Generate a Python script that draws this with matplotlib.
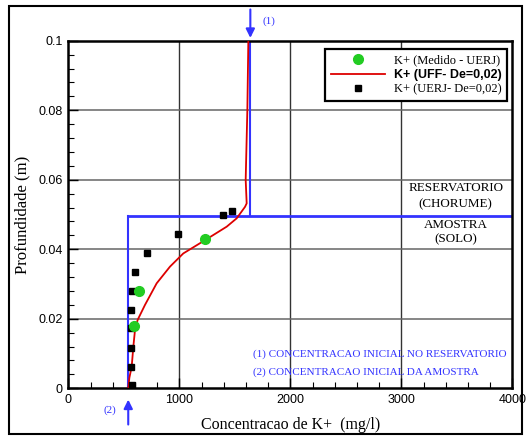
import matplotlib
matplotlib.use("Agg")
import matplotlib.pyplot as plt
from matplotlib.lines import Line2D
from matplotlib.patches import Rectangle

# ---- data ----
uerj_x = [571, 565, 565, 562, 565, 571, 598, 712, 985, 1397, 1475]
uerj_y = [0.001, 0.0062, 0.0117, 0.0173, 0.0225, 0.0281, 0.0335, 0.039, 0.0444, 0.0499, 0.0509]

medido_x = [592, 640, 1234]
medido_y = [0.018, 0.0279, 0.043]

uff_x = [540, 550, 571, 586, 601, 625, 691, 796, 916, 1036, 1246, 1427, 1517, 1592, 1607, 1598, 1613, 1622]
uff_y = [0.0, 0.003, 0.0062, 0.012, 0.0168, 0.0197, 0.024, 0.0302, 0.035, 0.0388, 0.0429, 0.0465, 0.0489, 0.0522, 0.0532, 0.06, 0.08, 0.1]

c_reservatorio = 1640
c_amostra = 540
interface = 0.0495

xticks = [0, 1000, 2000, 3000, 4000]
yticks = [0, 0.02, 0.04, 0.06, 0.08, 0.1]
ytick_labels = ["0", "0.02", "0.04", "0.06", "0.08", "0.1"]

BLUE = "#3333ff"
RED = "#dd0000"
GREEN = "#22cc22"
SERIF = "Liberation Serif"
SANS = "Liberation Sans"

fig = plt.figure(figsize=(5.26, 4.37), dpi=100)
W, H = 526, 437
ax = fig.add_axes([68.3 / W, 1 - 388.3 / H, 444 / W, 347.6 / H])

ax.set_xlim(0, 4000)
ax.set_ylim(0, 0.1)

# grid
for xv in [1000, 2000, 3000]:
    ax.axvline(xv, color="#333333", lw=1, zorder=1)
for yv in [0.02, 0.04, 0.06, 0.08]:
    ax.axhline(yv, color="#666666", lw=1.1, zorder=1)

# blue reference lines
ax.plot([c_amostra, c_amostra], [0, interface], color=BLUE, lw=1.5, zorder=2)
ax.plot([c_amostra, 4000], [interface, interface], color=BLUE, lw=2, zorder=2)
ax.plot([c_reservatorio, c_reservatorio], [interface, 0.1], color=BLUE, lw=1.5, zorder=2)

# arrows outside axes
ax.annotate("", xy=(c_reservatorio, 0.1), xycoords="data",
            xytext=(c_reservatorio, 0.1 + 34 / 3476), textcoords="data",
            arrowprops=dict(arrowstyle="-|>", color=BLUE, lw=1.5, mutation_scale=13),
            annotation_clip=False)
ax.text(c_reservatorio + 110, 0.1 + 20 / 3476, "(1)", color=BLUE, fontsize=8,
        family=SERIF, ha="left", va="center", clip_on=False)
ax.annotate("", xy=(c_amostra, -8.5 / 3476), xycoords="data",
            xytext=(c_amostra, -39 / 3476), textcoords="data",
            arrowprops=dict(arrowstyle="-|>", color=BLUE, lw=1.5, mutation_scale=13),
            annotation_clip=False)
ax.text(c_amostra - 110, -22 / 3476, "(2)", color=BLUE, fontsize=8,
        family=SERIF, ha="right", va="center", clip_on=False)

# data
ax.plot(uff_x, uff_y, color=RED, lw=1.3, zorder=3)
ax.plot(uerj_x, uerj_y, ls="none", marker="s", ms=5, color="black", zorder=4)
ax.plot(medido_x, medido_y, ls="none", marker="o", ms=7, color=GREEN, zorder=5)

# text annotations
for txt, yv in [("RESERVATORIO", 0.0576), ("(CHORUME)", 0.0530),
                ("AMOSTRA", 0.0470), ("(SOLO)", 0.0430)]:
    ax.text(3490, yv, txt, ha="center", va="center", family=SERIF, fontsize=9.4)
ax.text(1665, 0.0097, "(1) CONCENTRACAO INICIAL NO RESERVATORIO", color=BLUE,
        family=SERIF, fontsize=8, ha="left", va="center")
ax.text(1665, 0.0046, "(2) CONCENTRACAO INICIAL DA AMOSTRA", color=BLUE,
        family=SERIF, fontsize=8, ha="left", va="center")

# ticks
ax.set_xticks(xticks)
ax.set_xticklabels([str(v) for v in xticks], family=SANS, fontsize=9)
ax.set_yticks(yticks)
ax.set_yticklabels(ytick_labels, family=SANS, fontsize=9)
ax.set_xticks(range(0, 4001, 200), minor=True)
ax.set_yticks([i * 0.004 for i in range(26)], minor=True)
ax.tick_params(which="major", direction="in", length=7, width=1, pad=4)
ax.tick_params(which="minor", direction="in", length=4, width=0.8)
ax.tick_params(top=False, right=False)
for s in ax.spines.values():
    s.set_linewidth(1.8)

ax.set_xlabel("Concentracao de K+  (mg/l)", family=SERIF, fontsize=11.5, labelpad=8)
ax.set_ylabel("Profundidade (m)", family=SERIF, fontsize=12, labelpad=6)

# legend
handles = [
    Line2D([], [], ls="none", marker="o", ms=7, color=GREEN),
    Line2D([], [], color=RED, lw=1.3),
    Line2D([], [], ls="none", marker="s", ms=5, color="black"),
]
labels = ["K+ (Medido - UERJ)", "K+ (UFF- De=0,02)", "K+ (UERJ- De=0,02)"]
leg = ax.legend(handles, labels, loc="upper right", bbox_to_anchor=(0.988, 0.976),
                fancybox=False, framealpha=1, edgecolor="black", handlelength=4.3,
                handletextpad=0.7, labelspacing=0.2, borderpad=0.45, borderaxespad=0,
                prop={"family": SERIF, "size": 9})
leg.get_frame().set_linewidth(1.6)
texts = leg.get_texts()
texts[1].set_fontfamily(SANS)
texts[1].set_fontweight("bold")

# outer frame
fig.patches.append(Rectangle((9 / W, 1 - 434 / H), 513 / W, 428 / H,
                             transform=fig.transFigure, fill=False,
                             edgecolor="black", lw=1.5))

fig.savefig("out.png", dpi=100)
